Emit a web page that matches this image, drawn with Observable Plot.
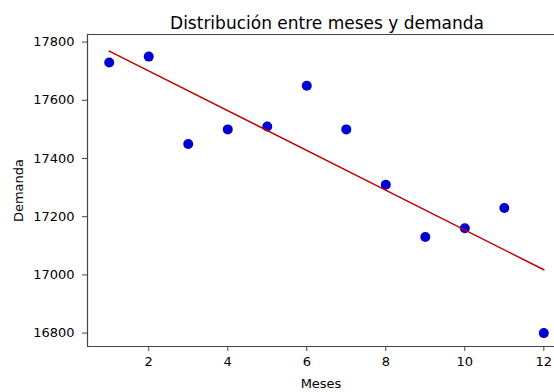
<!DOCTYPE html>
<html>
<head>
<meta charset="utf-8">
<script src="https://cdn.jsdelivr.net/npm/d3@7"></script>
<script src="https://cdn.jsdelivr.net/npm/@observablehq/plot@0.6"></script>
<style>
  html, body { margin: 0; padding: 0; background: white; overflow: hidden; }
  svg { overflow: hidden; display: block; }
</style>
</head>
<body>
<div id="chart"></div>
<script>
const titulo = "Distribución entre meses y demanda";
const meses = [1, 2, 3, 4, 5, 6, 7, 8, 9, 10, 11, 12];
const demanda = [17730, 17750, 17450, 17500, 17510, 17650, 17500, 17310, 17130, 17160, 17230, 16800];
const xTicks = [2, 4, 6, 8, 10, 12];
const yTicks = [16800, 17000, 17200, 17400, 17600, 17800];
const xDomain = [0.45, 12.27];
const yDomain = [16754, 17826];

const data = meses.map((m, i) => ({ mes: m, demanda: demanda[i] }));

const chart = Plot.plot({
  width: 554,
  height: 392,
  marginLeft: 87,
  marginTop: 34,
  marginBottom: 46,
  marginRight: 0,
  style: { fontFamily: "DejaVu Sans, sans-serif", fontSize: "13px", color: "#000", background: "white" },
  x: { domain: xDomain },
  y: { domain: yDomain },
  marks: [
    Plot.ruleX([xDomain[0]], { stroke: "#444", strokeWidth: 1.2 }),
    Plot.ruleY([yDomain[0]], { stroke: "#444", strokeWidth: 1.2 }),
    Plot.ruleY([yDomain[1]], { stroke: "#444", strokeWidth: 1.2 }),
    Plot.axisX({ ticks: xTicks, tickFormat: d => String(d), tickSize: 5, tickPadding: 5, stroke: "#444", label: "Meses", labelAnchor: "center", labelOffset: 41, labelArrow: "none" }),
    Plot.axisY({ ticks: yTicks, tickFormat: d => String(d), tickSize: 5, tickPadding: 8, stroke: "#444", label: "Demanda", labelAnchor: "center", labelOffset: 74, labelArrow: "none" }),
    Plot.dot(data, { x: "mes", y: "demanda", r: 5, fill: "#0000d0", stroke: "none" }),
    Plot.linearRegressionY(data, { x: "mes", y: "demanda", ci: 0, stroke: "#c00000", strokeWidth: 1.5 }),
    Plot.text([titulo], { text: d => d, frameAnchor: "top", lineAnchor: "bottom", dy: -6, dx: 6, fontSize: 17, fill: "#000" })
  ]
});
document.getElementById("chart").appendChild(chart);
</script>
</body>
</html>
